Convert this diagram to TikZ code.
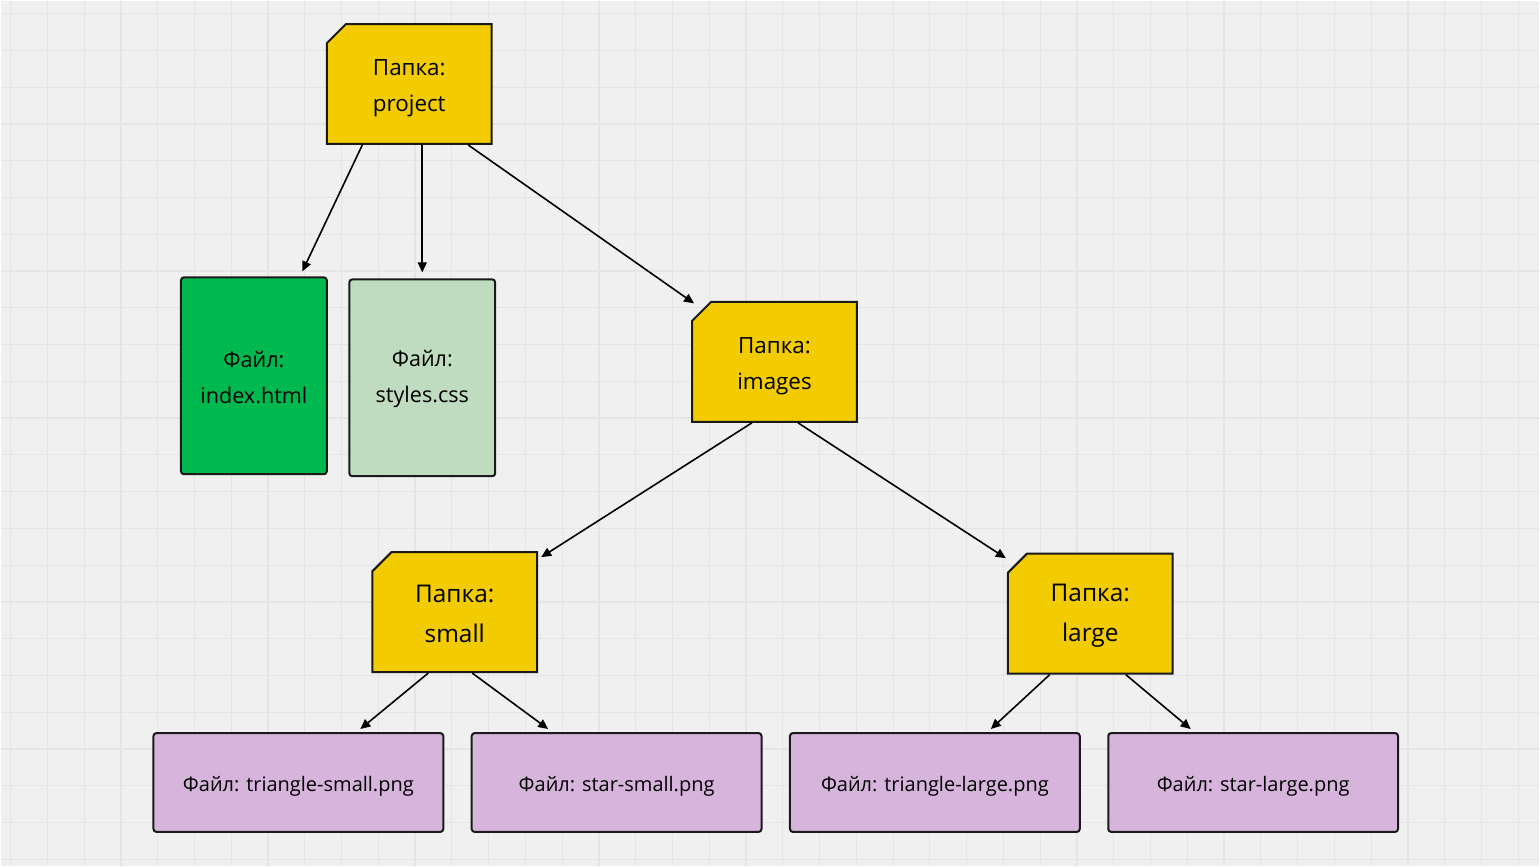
\documentclass[tikz,border=0pt]{standalone}
\usepackage{fontspec}
\setmainfont{Open Sans}
\usetikzlibrary{shapes.misc, arrows.meta}

\definecolor{folderyellow}{RGB}{242,203,0}
\definecolor{htmlgreen}{RGB}{0,184,80}
\definecolor{cssgreen}{RGB}{192,220,192}
\definecolor{pngpurple}{RGB}{214,180,220}
\definecolor{boardgray}{RGB}{240,240,240}
\definecolor{gridgray}{RGB}{229,229,229}
\definecolor{inkline}{RGB}{26,26,26}

\tikzset{
  folder/.style={shape=chamfered rectangle, chamfered rectangle corners=north west,
    chamfered rectangle xsep=6pt, chamfered rectangle angle=45,
    draw=inkline, line width=1pt, fill=folderyellow, text=black, align=center,
    minimum width=82.5pt, minimum height=60pt, inner sep=0pt},
  tallfile/.style={draw=inkline, line width=1pt, rounded corners=1.5pt, align=center,
    minimum width=73pt, minimum height=98.5pt, inner sep=0pt, text height=27.7pt,
    font=\fontsize{10.8}{18}\selectfont},
  pngfile/.style={draw=inkline, line width=1pt, rounded corners=1.5pt, fill=pngpurple,
    minimum width=145pt, minimum height=49.5pt, inner sep=0pt,
    text height=11.5pt, text depth=2.4pt, font=\fontsize{10}{12}\selectfont},
  link/.style={draw=black, line width=0.8pt, -{Triangle[length=5pt,width=4.5pt]}},
  gridline/.style={draw=gridgray, line width=0.6pt}
}

\begin{document}
\begin{tikzpicture}[x=0.5pt, y=-0.5pt]
          % board
          \fill[boardgray] (0,0) rectangle (1540,866);
          \foreach \gx in {0,...,41} \draw[gridline] ({10+36.8*\gx},0) -- ({10+36.8*\gx},866);
          \foreach \gy in {0,...,23} \draw[gridline] (0,{13+36.8*\gy}) -- (1540,{13+36.8*\gy});
          \useasboundingbox (0,0) rectangle (1540,866);

          \begin{scope}[font=\fontsize{11.2}{18}\selectfont]
            \node (project) [folder,text height=30pt] at (409,83.5) {Папка:\\project};
            \node (images) [folder,text height=30pt] at (774.5,361.5) {Папка:\\images};
          \end{scope}

          \begin{scope}[font=\fontsize{12.2}{20}\selectfont]
            \node (small) [folder,text height=30.7pt] at (454.5,612) {Папка:\\small};
            \node (large) [folder,text height=30.7pt] at (1090.5,613.5) {Папка:\\large};
          \end{scope}

          \node (index) [tallfile,fill=htmlgreen] at (253.5,375.5) {Файл:\\index.html};
          \node (styles) [tallfile,fill=cssgreen] at (422,377.5) {Файл:\\styles.css};

          \node (trismall) [pngfile] at (298,782.5) {Файл: triangle-small.png};
          \node (starsmall) [pngfile] at (616.5,782.5) {Файл: star-small.png};
          \node (trilarge) [pngfile] at (935,782.5) {Файл: triangle-large.png};
          \node (starlarge) [pngfile] at (1253.5,782.5) {Файл: star-large.png};

          \begin{scope}[every edge/.style=link]
            \path ([xshift=-23.5pt]project.south) edge ([xshift=24.25pt,yshift=2.5pt]index.north);
            \path ([xshift=6.5pt]project.south) edge ([yshift=3pt]styles.north);
            \path ([xshift=29.5pt]project.south) edge ([shift={(-40.25pt,29.25pt)}]images.center);
            \path ([xshift=-11.25pt]images.south) edge ([shift={(43.25pt,27.5pt)}]small.center);
            \path ([xshift=11.75pt]images.south) edge ([shift={(-42.25pt,27.75pt)}]large.center);
            \path ([xshift=-13.25pt]small.south) edge ([xshift=31pt,yshift=1.5pt]trismall.north);
            \path ([xshift=8.75pt]small.south) edge ([xshift=-34.25pt,yshift=1.5pt]starsmall.north);
            \path ([xshift=-20.25pt]large.south) edge ([xshift=28pt,yshift=1.5pt]trilarge.north);
            \path ([xshift=17.75pt]large.south) edge ([xshift=-31.25pt,yshift=1.5pt]starlarge.north);
          \end{scope}
        \end{tikzpicture}
\end{document}
